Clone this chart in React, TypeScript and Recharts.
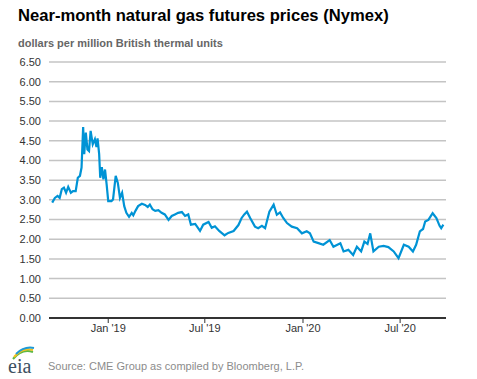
import { LineChart, Line, XAxis, YAxis, CartesianGrid } from 'recharts';

// near-month settlement dates (sampled) and prices, $/MMBtu
const dates = [
  '2018-09-18', '2018-09-23', '2018-09-28', '2018-10-02', '2018-10-06', '2018-10-10',
  '2018-10-14', '2018-10-18', '2018-10-23', '2018-10-27', '2018-11-01', '2018-11-05',
  '2018-11-09', '2018-11-12', '2018-11-15', '2018-11-17', '2018-11-20', '2018-11-23',
  '2018-11-26', '2018-11-29', '2018-12-03', '2018-12-07', '2018-12-10', '2018-12-12',
  '2018-12-15', '2018-12-17', '2018-12-20', '2018-12-23', '2018-12-26', '2018-12-29',
  '2019-01-01', '2019-01-07', '2019-01-10', '2019-01-15', '2019-01-19', '2019-01-23',
  '2019-01-27', '2019-01-31', '2019-02-04', '2019-02-09', '2019-02-14', '2019-02-17',
  '2019-02-21', '2019-02-26', '2019-03-05', '2019-03-11', '2019-03-16', '2019-03-20',
  '2019-03-25', '2019-03-30', '2019-04-05', '2019-04-11', '2019-04-17', '2019-04-24',
  '2019-04-30', '2019-05-06', '2019-05-12', '2019-05-19', '2019-05-25', '2019-05-31',
  '2019-06-05', '2019-06-13', '2019-06-22', '2019-06-28', '2019-07-08', '2019-07-14',
  '2019-07-20', '2019-07-28', '2019-08-07', '2019-08-14', '2019-08-24', '2019-09-02',
  '2019-09-08', '2019-09-13', '2019-09-18', '2019-09-24', '2019-10-03', '2019-10-09',
  '2019-10-16', '2019-10-22', '2019-10-30', '2019-11-07', '2019-11-13', '2019-11-19',
  '2019-11-25', '2019-12-02', '2019-12-11', '2019-12-21', '2019-12-30', '2020-01-08',
  '2020-01-14', '2020-01-21', '2020-01-30', '2020-02-08', '2020-02-20', '2020-02-27',
  '2020-03-11', '2020-03-17', '2020-03-26', '2020-04-04', '2020-04-11', '2020-04-19',
  '2020-04-25', '2020-05-01', '2020-05-06', '2020-05-12', '2020-05-22', '2020-05-31',
  '2020-06-09', '2020-06-19', '2020-06-28', '2020-07-08', '2020-07-17', '2020-07-25',
  '2020-07-31', '2020-08-07', '2020-08-13', '2020-08-17', '2020-08-23', '2020-08-31',
  '2020-09-07', '2020-09-13', '2020-09-16', '2020-09-20',
];

const prices = [
  2.93, 3.05, 3.10, 3.05, 3.27, 3.31,
  3.18, 3.33, 3.18, 3.22, 3.22, 3.56,
  3.61, 3.82, 4.85, 4.16, 4.71, 4.28,
  4.24, 4.75, 4.41, 4.54, 4.34, 4.56,
  4.16, 3.56, 3.83, 3.52, 3.77, 3.39,
  2.97, 2.97, 3.01, 3.61, 3.43, 3.05,
  3.18, 2.84, 2.67, 2.57, 2.67, 2.61,
  2.72, 2.84, 2.90, 2.87, 2.82, 2.88,
  2.76, 2.72, 2.74, 2.67, 2.63, 2.49,
  2.59, 2.63, 2.67, 2.69, 2.59, 2.63,
  2.37, 2.39, 2.21, 2.37, 2.44, 2.29,
  2.33, 2.21, 2.10, 2.16, 2.21, 2.36,
  2.54, 2.63, 2.70, 2.54, 2.32, 2.28,
  2.34, 2.28, 2.70, 2.88, 2.62, 2.68,
  2.54, 2.41, 2.32, 2.28, 2.15, 2.20,
  2.15, 1.94, 1.90, 1.86, 1.98, 1.81,
  1.90, 1.69, 1.73, 1.60, 1.81, 1.69,
  1.94, 1.88, 2.15, 1.69, 1.81, 1.83,
  1.80, 1.69, 1.52, 1.86, 1.81, 1.69,
  1.86, 2.20, 2.26, 2.45, 2.49, 2.66,
  2.54, 2.34, 2.28, 2.37,
];

const xTicks = ['2019-01-01', '2019-07-01', '2020-01-01', '2020-07-01'];
const xTickLabels = ["Jan '19", "Jul '19", "Jan '20", "Jul '20"];
const yTicks = [0, 0.5, 1, 1.5, 2, 2.5, 3, 3.5, 4, 4.5, 5, 5.5, 6, 6.5];

const ts = (d: string) => Date.parse(d + 'T00:00:00Z');
const data = dates.map((d, i) => ({ t: ts(d), price: prices[i] }));
const tickTs = xTicks.map(ts);

const font = '"Liberation Sans", Arial, sans-serif';

export default function App() {
  return (
    <div style={{ position: 'absolute', left: 0, top: 0, width: 477, height: 379, background: '#fff', fontFamily: font }}>
      <div style={{ position: 'absolute', left: 18, top: 6, fontSize: 16.6, fontWeight: 'bold', color: '#000', whiteSpace: 'nowrap' }}>
        Near-month natural gas futures prices (Nymex)
      </div>
      <div style={{ position: 'absolute', left: 18, top: 37, fontSize: 11, fontWeight: 'bold', color: '#666', whiteSpace: 'nowrap' }}>
        dollars per million British thermal units
      </div>
      <LineChart width={477} height={379} data={data} margin={{ top: 62, right: 31, bottom: 31, left: 0 }}>
        <CartesianGrid vertical={false} stroke="#c4c4c4" strokeWidth={1.5} />
        <XAxis
          dataKey="t"
          type="number"
          scale="time"
          domain={[ts('2018-09-12'), ts('2020-09-25')]}
          ticks={tickTs}
          tickFormatter={(v: number) => xTickLabels[tickTs.indexOf(v)]}
          stroke="#333"
          axisLine={{ stroke: '#333', strokeWidth: 2 }}
          tickLine={{ stroke: '#333' }}
          tickSize={5}
          tickMargin={1}
          height={30}
          tick={{ fontSize: 11, fill: '#333', fontFamily: font }}
        />
        <YAxis
          domain={[0, 6.5]}
          ticks={yTicks}
          interval={0}
          tickFormatter={(v: number) => v.toFixed(2)}
          axisLine={false}
          tickLine={false}
          width={49}
          tick={{ fontSize: 11, fill: '#333', fontFamily: font }}
        />
        <Line type="linear" dataKey="price" stroke="#0093d5" strokeWidth={2.2} dot={false} isAnimationActive={false} />
      </LineChart>
      <svg style={{ position: 'absolute', left: 0, top: 345 }} width={44} height={34}>
        <path d="M13 14 Q22 3 33 7" fill="none" stroke="#5db846" strokeWidth={2} />
        <path d="M14 12 Q23 2 33 5" fill="none" stroke="#f4c01e" strokeWidth={2} />
        <path d="M16 9 Q24 1 34 3" fill="none" stroke="#1e9ad6" strokeWidth={2} />
        <text x={8} y={28} fontSize={20} fontFamily='"Liberation Serif", serif' fill="#3d4f60">eia</text>
      </svg>
      <div style={{ position: 'absolute', left: 48, top: 360, fontSize: 11, color: '#8c8c8c', whiteSpace: 'nowrap' }}>
        Source: CME Group as compiled by Bloomberg, L.P.
      </div>
    </div>
  );
}
